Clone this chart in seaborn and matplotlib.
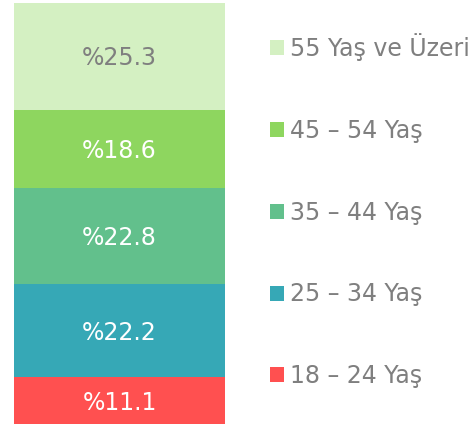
import numpy as np
import seaborn as sns
import matplotlib.pyplot as plt
from matplotlib.patches import Patch

# age groups, bottom to top
groups = ["18 – 24 Yaş", "25 – 34 Yaş", "35 – 44 Yaş", "45 – 54 Yaş", "55 Yaş ve Üzeri"]
shares = [11.1, 22.2, 22.8, 18.6, 25.3]
colors = ["#FF5050", "#36A8B6", "#62C08C", "#8ED65F", "#D4F0C2"]
label_colors = ["white", "white", "white", "white", "#7F7F7F"]

sns.set_style("white")
plt.rcParams['font.family'] = ['DejaVu Sans']

fig = plt.figure(figsize=(4.77, 4.30), dpi=100)
ax = fig.add_axes([14 / 477, 6 / 430, 211 / 477, 421 / 430])

cum = np.cumsum(shares)
# overlapping bars, tallest first -> stacked look
for i in range(len(groups) - 1, -1, -1):
    sns.barplot(x=["all"], y=[cum[i]], color=colors[i], ax=ax, width=0.8,
                saturation=1, edgecolor="none")

bottoms = cum - np.array(shares)
for i, g in enumerate(groups):
    ax.text(0, bottoms[i] + shares[i] / 2 - 0.5, f"%{shares[i]:.1f}", ha="center", va="center",
            fontsize=17, color=label_colors[i])

ax.set_xlim(-0.4, 0.4)
ax.set_ylim(0, 100)
ax.axis("off")

handles = [Patch(facecolor=colors[i], edgecolor="none", label=groups[i])
           for i in range(len(groups) - 1, -1, -1)]
leg = fig.legend(handles=handles, loc="upper left", bbox_to_anchor=(270 / 477, 1 - 33 / 430),
                 frameon=False, fontsize=17, labelcolor="#7F7F7F",
                 handlelength=0.6, handleheight=0.6, handletextpad=0.25,
                 labelspacing=2.45, borderpad=0, borderaxespad=0)

fig.savefig("out.png", dpi=100)
